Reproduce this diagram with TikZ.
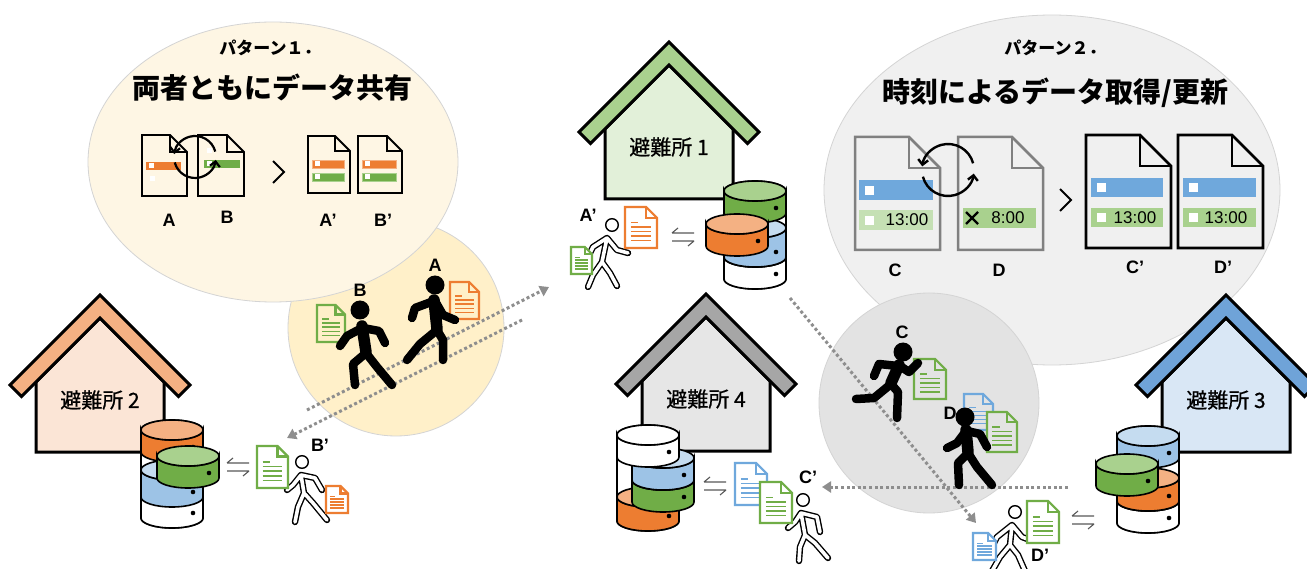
\documentclass[tikz,border=0pt]{standalone}
\usepackage{fontspec}
\setmainfont{Noto Sans CJK JP}
\newfontfamily\medface{Noto Sans CJK JP}[FakeBold=0.6]
\newfontfamily\latinface{Liberation Sans}
\usetikzlibrary{arrows.meta,calc}

\definecolor{pOne}{HTML}{FEF6E4}
\definecolor{pOneWalk}{HTML}{FFF0C9}
\definecolor{pTwo}{HTML}{F0F0F0}
\definecolor{pTwoWalk}{HTML}{E3E3E3}
\definecolor{bubEdge}{HTML}{D4D4D4}
\definecolor{grnT}{HTML}{A9D18E}
\definecolor{grnS}{HTML}{70AD47}
\definecolor{orgT}{HTML}{F4B183}
\definecolor{orgS}{HTML}{ED7D31}
\definecolor{bluT}{HTML}{C5DCF0}
\definecolor{bluS}{HTML}{9DC3E6}
\definecolor{bluLine}{HTML}{6FA8DC}
\definecolor{barLtGrn}{HTML}{C5E0B4}
\definecolor{dotGray}{HTML}{8E8E8E}
\definecolor{arrGray}{HTML}{595959}
\definecolor{docGray}{HTML}{808080}
\definecolor{bodyGrn}{HTML}{E2F0D9}
\definecolor{bodyOrg}{HTML}{FBE5D6}
\definecolor{bodyBlu}{HTML}{D9E7F5}
\definecolor{bodyGry}{HTML}{E6E6E6}
\definecolor{roofBlu}{HTML}{6FA3D8}
\definecolor{roofGry}{HTML}{A6A6A6}

\tikzset{
  lbl/.style={font=\latinface\bfseries\fontsize{18}{18}\selectfont, inner sep=0pt},
  timefont/.style={font=\latinface\fontsize{17}{17}\selectfont, inner sep=0pt},
  route/.style={dotGray, line width=3pt, dash pattern=on 3pt off 2.6pt,
    -{Triangle[length=9pt,width=11pt]}},
  blackfig/.style={line width=8.5pt, line cap=round, line join=round},
  torsofig/.style={line width=11.5pt, line cap=round},
  outfig/.style={double=white, double distance=3.6pt, line width=1.4pt,
    line cap=round, line join=round},
  syncarc/.style={-{Straight Barb[length=5pt,width=10pt]}},
  chev/.style={line width=2pt, line join=miter},
}

% shelter: name, apex x, apex y, roof colour, wall colour, label
\newcommand\shelter[6]{%
  \begin{scope}[shift={(#2,#3)}]
    \draw[line width=3pt, fill=#5, line join=miter]
      (-64,157) -- (-64,87) -- (0,23) -- (64,87) -- (64,157) -- cycle;
    \draw[line width=3pt, fill=#4, line join=miter]
      (0,0) -- (90,90) -- (78.5,101.5) -- (0,23) -- (-78.5,101.5) -- (-90,90) -- cycle;
    \node[font=\medface\fontsize{21}{21}\selectfont, inner sep=0pt] (#1) at (0,105) {#6};
  \end{scope}}

% storage disk: centre x, top y, height, top colour, side colour
\newcommand\dbdisk[5]{%
  \begin{scope}[shift={(#1,#2)}]
    \draw[line width=1.6pt, fill=#5] (-31,0) -- (-31,#3)
      arc[start angle=180, end angle=0, x radius=31, y radius=10] -- (31,0)
      arc[start angle=0, end angle=180, x radius=31, y radius=10] -- cycle;
    \draw[line width=1.6pt, fill=#4] (0,0) ellipse[x radius=31, y radius=10];
    \fill ({21},{#3-5}) circle (2.3);
  \end{scope}}

% white column behind the disks: centre x, top y, height
\newcommand\dbcolumn[3]{%
  \begin{scope}[shift={(#1,#2)}]
    \draw[line width=1.6pt, fill=white] (-31,0) -- (-31,#3)
      arc[start angle=180, end angle=0, x radius=31, y radius=10] -- (31,0)
      arc[start angle=0, end angle=-180, x radius=31, y radius=10] -- cycle;
  \end{scope}}

% carried sheet: x, y, width, height, colour, fill
\newcommand\carrydoc[6]{%
  \begin{scope}[shift={(#1,#2)}]
    \pgfmathsetmacro\dcw{#3}\pgfmathsetmacro\dch{#4}\pgfmathsetmacro\dcf{0.34*#3}
    \draw[#5, fill=#6, line width=2.2pt, line join=miter]
      (0,0) -- ({\dcw-\dcf},0) -- (\dcw,\dcf) -- (\dcw,\dch) -- (0,\dch) -- cycle;
    \draw[#5, line width=2.2pt, line join=miter]
      ({\dcw-\dcf},0) -- ({\dcw-\dcf},\dcf) -- (\dcw,\dcf);
    \draw[#5, line width=1.5pt] ({0.18*\dcw},{0.38*\dch}) -- ({0.42*\dcw},{0.38*\dch});
    \foreach \r in {0.49,0.60,0.71,0.82}
      \draw[#5, line width=1.5pt] ({0.18*\dcw},{\r*\dch}) -- ({0.82*\dcw},{\r*\dch});
  \end{scope}}

% record sheet: x, y, width, height, fold, stroke, fill
\newcommand\patdoc[7]{%
  \begin{scope}[shift={(#1,#2)}]
    \draw[#6, fill=#7, line join=miter]
      (0,0) -- ({#3-#5},0) -- (#3,#5) -- (#3,#4) -- (0,#4) -- cycle;
    \draw[#6, line join=miter] ({#3-#5},0) -- ({#3-#5},#5) -- (#3,#5);
  \end{scope}}

% exchange mark: name, x, y
\newcommand\swaparrows[3]{%
  \coordinate (#1) at (#2,#3);
  \begin{scope}[shift={(#1)}]
    \draw[arrGray, line width=1.1pt] (-11,-4) -- (11,-4) (-11,-4) -- (-5,-9);
    \draw[arrGray, line width=1.1pt] (-11,4) -- (11,4) (11,4) -- (5,9);
  \end{scope}}

\begin{document}
\begin{tikzpicture}[x=1pt,y=-1pt]
\useasboundingbox (0,0) rectangle (1307,569);
\fill[white] (0,0) rectangle (1307,569);

% ---------- bubbles ----------
\draw[bubEdge, line width=0.8pt, fill=pOneWalk] (396,328) circle (108);
\draw[bubEdge, line width=0.8pt, fill=pOne] (273,162) ellipse[x radius=185, y radius=140];
\draw[bubEdge, line width=0.8pt, fill=pTwo] (1052,190) ellipse[x radius=228, y radius=175];
\draw[bubEdge, line width=0.8pt, fill=pTwoWalk] (929,403) circle (110);

% ---------- pattern 1 ----------
\node[font=\bfseries\fontsize{17}{17}\selectfont] (p1head) at (270,48) {パターン１．};
\node[font=\bfseries\fontsize{28}{28}\selectfont] (p1title) at (272,88) {両者ともにデータ共有};

\patdoc{142}{135}{45}{61}{17}{line width=1.8pt, black}{none}
\patdoc{198}{135}{46}{61}{17}{line width=1.8pt, black}{none}
\fill[orgS] (146,162) rectangle (181,170);
\fill[white] (148.5,163.5) rectangle (153.5,168.5);
\fill[white] (149.5,176.5) rectangle (154.5,181.5);
\fill[white] (206.5,148.5) rectangle (211.5,153.5);
\fill[grnS] (204,160) rectangle (240,168);
\fill[white] (206.5,161.5) rectangle (211.5,166.5);
\draw[syncarc, line width=2.2pt] ($(195,157)+(-15:21)$) arc[start angle=-15, end angle=-172, radius=21];
\draw[syncarc, line width=2.2pt] ($(195,157)+(-195:21)$) arc[start angle=-195, end angle=-352, radius=21];
\draw[chev] (273,161) -- (284,172) -- (273,183);

\patdoc{308}{136}{42}{57}{15}{line width=1.8pt, black}{none}
\patdoc{358}{136}{44}{57}{15}{line width=1.8pt, black}{none}
\draw[orgT, fill=orgS, line width=0.8pt] (312,160) rectangle (344,168);
\draw[grnT, fill=grnS, line width=0.8pt] (312,173) rectangle (344,181);
\draw[orgT, fill=orgS, line width=0.8pt] (362,160) rectangle (396,168);
\draw[grnT, fill=grnS, line width=0.8pt] (362,173) rectangle (396,181);
\foreach \xx/\yy in {314.5/161.5, 314.5/174.5, 364.5/161.5, 364.5/174.5}
  \fill[white] (\xx,\yy) rectangle ++(5,5);

\node[lbl] (la) at (169,220) {A};
\node[lbl] (lb) at (227,217) {B};
\node[lbl] (lap) at (328,220) {A’};
\node[lbl] (lbp) at (383,220) {B’};

% ---------- pattern 2 ----------
\node[font=\bfseries\fontsize{17}{17}\selectfont] (p2head) at (1055,48) {パターン２．};
\node[font=\bfseries\fontsize{28}{28}\selectfont] (p2title) at (1055,93) {時刻によるデータ取得/更新};

\patdoc{855}{137}{85}{113}{31}{line width=2.5pt, docGray}{none}
\patdoc{958}{137}{85}{113}{31}{line width=2.5pt, docGray}{none}
\fill[bluLine] (859,180) rectangle (933,200);
\fill[white] (865,186) rectangle (874,195);
\fill[barLtGrn] (859,210) rectangle (933,230);
\fill[white] (865,216) rectangle (874,225);
\node[timefont] (tc) at (907,220) {13:00};
\fill[grnT] (963,208) rectangle (1036,228);
\draw[line width=2.4pt] (966,212) -- (978,224) (966,224) -- (978,212);
\node[timefont] (td) at (1008,218) {8:00};
\draw[syncarc, line width=2.4pt] ($(948,170)+(-15:26)$) arc[start angle=-15, end angle=-172, radius=26];
\draw[syncarc, line width=2.4pt] ($(948,170)+(-195:26)$) arc[start angle=-195, end angle=-352, radius=26];
\draw[chev] (1060,189) -- (1071,200) -- (1060,211);

\patdoc{1086}{135}{85}{113}{31}{line width=2.8pt, black}{none}
\patdoc{1178}{135}{85}{113}{31}{line width=2.8pt, black}{none}
\fill[bluLine] (1091,178) rectangle (1163,197);
\fill[white] (1097,183) rectangle (1106,192);
\fill[grnT] (1091,208) rectangle (1163,227);
\fill[white] (1097,213) rectangle (1106,222);
\node[timefont] (tcp) at (1135,218) {13:00};
\fill[bluLine] (1183,178) rectangle (1256,197);
\fill[white] (1189,183) rectangle (1198,192);
\fill[grnT] (1183,208) rectangle (1256,227);
\fill[white] (1189,213) rectangle (1198,222);
\node[timefont] (tdp) at (1226,218) {13:00};

\node[lbl] (lc) at (895,270) {C};
\node[lbl] (ld) at (999,270) {D};
\node[lbl] (lcp) at (1135,267) {C’};
\node[lbl] (ldp) at (1223,267) {D’};

% ---------- shelters ----------
\shelter{s1}{669}{42}{grnT}{bodyGrn}{避難所 1}
\shelter{s2}{100}{295}{orgT}{bodyOrg}{避難所 2}
\shelter{s3}{1226}{295}{roofBlu}{bodyBlu}{避難所 3}
\shelter{s4}{706}{294}{roofGry}{bodyGry}{避難所 4}

% ---------- storage stacks ----------
\dbcolumn{755}{191}{88}
\dbdisk{755}{257}{22}{white}{white}
\dbdisk{755}{228}{29}{bluT}{bluS}
\dbdisk{755}{191}{22}{grnT}{grnS}
\dbdisk{737}{224}{22}{orgT}{orgS}

\dbcolumn{172}{430}{88}
\dbdisk{172}{496}{22}{white}{white}
\dbdisk{172}{470}{27}{bluT}{bluS}
\dbdisk{172}{430}{22}{orgT}{orgS}
\dbdisk{188}{456}{22}{grnT}{grnS}

\dbcolumn{648}{435}{86}
\dbdisk{648}{497}{24}{orgT}{orgS}
\dbdisk{663}{480}{22}{grnT}{grnS}
\dbdisk{663}{458}{22}{bluT}{bluS}
\dbdisk{648}{435}{22}{white}{white}

\dbcolumn{1148}{436}{87}
\dbdisk{1148}{501}{22}{white}{white}
\dbdisk{1148}{478}{23}{orgT}{orgS}
\dbdisk{1148}{436}{22}{bluT}{bluS}
\dbdisk{1127}{464}{22}{grnT}{grnS}

\swaparrows{x1}{683}{237}
\swaparrows{x2}{238}{467}
\swaparrows{x4}{715}{486}
\swaparrows{x3}{1083}{520}

% ---------- movement routes ----------
\coordinate (r1s) at (307,410); \coordinate (r1e) at (549,287);
\coordinate (r2s) at (522,320); \coordinate (r2e) at (287,438);
\coordinate (r3s) at (790,298); \coordinate (r3e) at (976,523);
\coordinate (r4s) at (1068,487); \coordinate (r4e) at (822,487);
\draw[route] (r1s) -- (r1e);
\draw[route] (r2s) -- (r2e);
\draw[route] (r3s) -- (r3e);
\draw[route] (r4s) -- (r4e);

% ---------- runners in the bubbles ----------
\carrydoc{450}{282}{29}{37}{orgS}{none}
\carrydoc{317}{305}{28}{37}{grnS}{none}
\carrydoc{914}{359}{32}{40}{grnS}{none}
\carrydoc{964}{394}{29}{36}{bluLine}{none}
\carrydoc{987}{412}{30}{40}{grnS}{pTwoWalk}

% B
\fill (360,310) circle (9.5);
\draw[torsofig] (362,326) -- (366,352);
\draw[blackfig] (362,328) -- (347,336) -- (340,346) (363,328) -- (379,331) -- (385,343)
  (366,353) -- (353,364) -- (355,385) (366,353) -- (377,367) -- (392,385);
% A
\fill (435,285) circle (9.5);
\draw[torsofig] (434,300) -- (437,329);
\draw[blackfig] (434,301) -- (415,308) -- (412,318) (435,301) -- (443,315) -- (455,320)
  (437,330) -- (420,344) -- (407,360) (437,330) -- (443,340) -- (443,360);
% C
\fill (903,352) circle (9.5);
\draw[torsofig] (899,365) -- (891,383);
\draw[blackfig] (898,366) -- (879,364) -- (874,376) (900,366) -- (909,372) -- (918,363)
  (891,384) -- (874,398) -- (856,399) (891,384) -- (898,392) -- (897,418);
% D
\fill (965,417) circle (9.5);
\draw[torsofig] (966,430) -- (968,452);
\draw[blackfig] (966,431) -- (957,443) -- (947,448) (967,431) -- (980,434) -- (987,447)
  (968,453) -- (958,463) -- (959,485) (968,453) -- (977,467) -- (992,485);

\node[lbl] (wa) at (435,265) {A};
\node[lbl] (wb) at (360,290) {B};
\node[lbl] (wc) at (902,332) {C};
\node[lbl] (wd) at (950,413) {D};

% ---------- walkers at the shelters ----------
% A'
\draw[outfig] (607,238) -- (602,262) (607,238) -- (593,247) -- (588,257)
  (607,238) -- (617,250) -- (628,253) (602,262) -- (593,275) -- (588,287)
  (602,262) -- (610,273) -- (617,286);
\draw[line width=1.4pt, fill=white] (612,225) circle (6.3);
\carrydoc{625}{207}{32}{41}{orgS}{white}
\carrydoc{571}{247}{21}{27}{grnS}{white}
\node[lbl] (wap) at (588,215) {A’};

% B'
\draw[outfig] (301,475) -- (304,493) (301,475) -- (293,485) -- (287,490)
  (301,475) -- (315,478) -- (322,490) (304,493) -- (298,507) -- (295,522)
  (304,493) -- (313,503) -- (327,520);
\draw[line width=1.4pt, fill=white] (302,462) circle (6.3);
\carrydoc{257}{446}{31}{42}{grnS}{white}
\carrydoc{326}{486}{22}{27}{orgS}{white}
\node[lbl] (wbp) at (320,445) {B’};

% C'
\draw[outfig] (801,513) -- (805,535) (801,513) -- (795,522) -- (788,528)
  (801,513) -- (817,517) -- (820,532) (805,535) -- (800,547) -- (799,561)
  (805,535) -- (815,543) -- (828,558);
\draw[line width=1.4pt, fill=white] (803,500) circle (6.3);
\carrydoc{735}{463}{32}{42}{bluLine}{white}
\carrydoc{760}{482}{32}{41}{grnS}{white}
\node[lbl] (wcp) at (808,477) {C’};

% D'
\draw[outfig] (1012,525) -- (1010,545) (1012,525) -- (997,537) -- (992,547)
  (1012,525) -- (1022,537) -- (1030,540) (1010,545) -- (1000,557) -- (992,571)
  (1010,545) -- (1018,555) -- (1025,571);
\draw[line width=1.4pt, fill=white] (1015,512) circle (6.3);
\carrydoc{1027}{501}{32}{42}{grnS}{white}
\carrydoc{973}{533}{23}{27}{bluLine}{white}
\node[lbl] (wdp) at (1040,555) {D’};

\end{tikzpicture}
\end{document}
